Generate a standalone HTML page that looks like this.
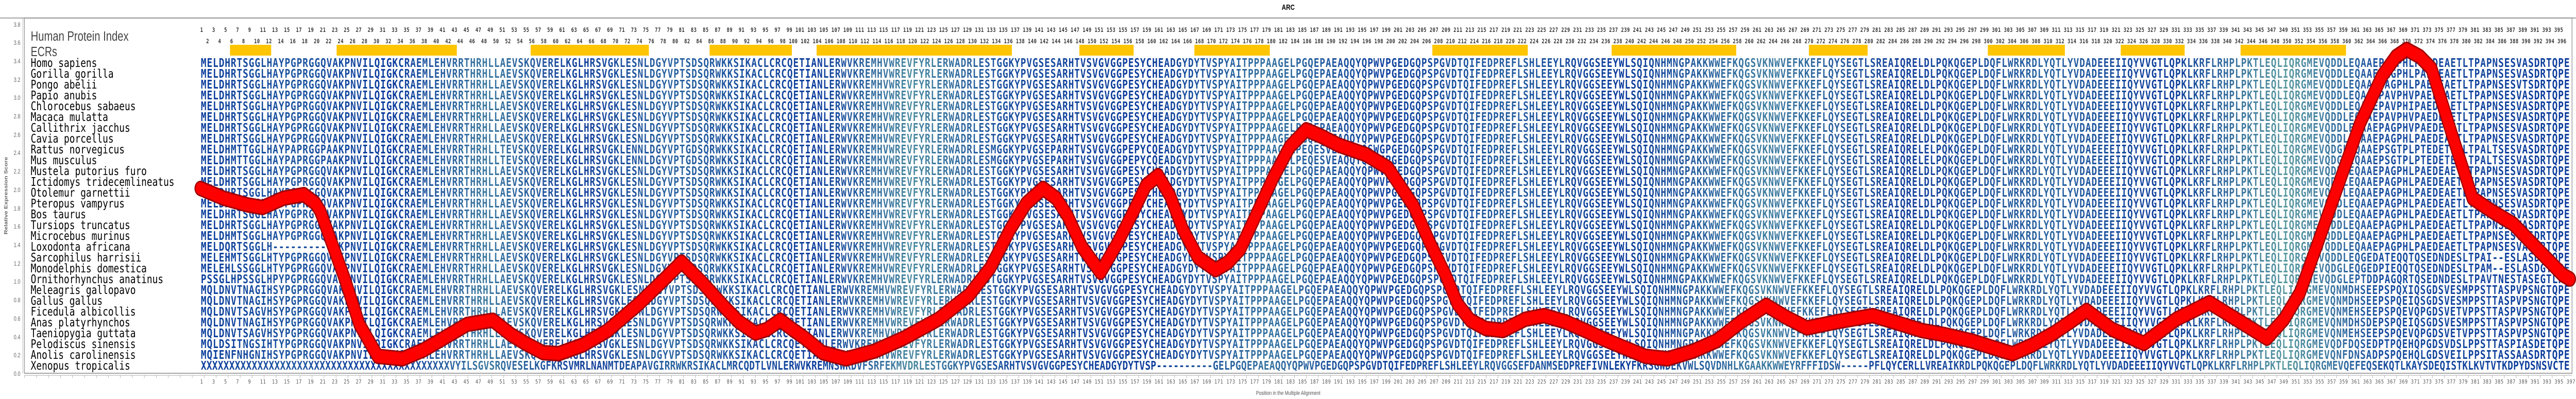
<!DOCTYPE html>
<html><head><meta charset="utf-8"><style>
html,body{margin:0;padding:0;background:#fff;width:100%;height:100%;overflow:hidden;}
svg{display:block;overflow:hidden;width:100vw;height:100vh;}
.sp{font-family:"DejaVu Sans Mono","Liberation Mono",monospace;font-size:23px;fill:#000;}
.sq{font-family:"DejaVu Sans Mono","Liberation Mono",monospace;font-size:23px;font-weight:bold;}
.tn{font-family:"DejaVu Sans Mono","Liberation Mono",monospace;font-size:11.5px;font-weight:bold;fill:#333;white-space:pre;}
.bn{font-family:"DejaVu Sans Mono","Liberation Mono",monospace;font-size:11px;fill:#555;white-space:pre;}
.yl{font-family:"Liberation Sans",sans-serif;font-size:12px;fill:#666;}
</style></head><body>
<svg viewBox="0 0 6451 775" preserveAspectRatio="none" xmlns="http://www.w3.org/2000/svg">
<defs>
<linearGradient id="g" gradientUnits="userSpaceOnUse" x1="503" y1="0" x2="6435" y2="0">
<stop offset="0" stop-color="#0b3d9c"/><stop offset="0.04" stop-color="#1e56a0"/><stop offset="0.08" stop-color="#0a3a9e"/><stop offset="0.12" stop-color="#3d7aa0"/><stop offset="0.16" stop-color="#123f9c"/><stop offset="0.2" stop-color="#2a64a0"/><stop offset="0.26" stop-color="#0d3d9e"/><stop offset="0.3" stop-color="#4b8aa0"/><stop offset="0.34" stop-color="#1a4ea0"/><stop offset="0.4" stop-color="#0b3b9c"/><stop offset="0.45" stop-color="#3573a0"/><stop offset="0.5" stop-color="#0e3f9e"/><stop offset="0.55" stop-color="#2660a0"/><stop offset="0.6" stop-color="#0b3b9c"/><stop offset="0.66" stop-color="#3e7da0"/><stop offset="0.72" stop-color="#133f9c"/><stop offset="0.78" stop-color="#2a64a0"/><stop offset="0.83" stop-color="#0b3b9c"/><stop offset="0.88" stop-color="#5a9aa0"/><stop offset="0.92" stop-color="#1a4ea0"/><stop offset="1" stop-color="#0b3b9c"/>
</linearGradient>
</defs>
<text x="3226" y="19" text-anchor="middle" style="font-family:'Liberation Sans',sans-serif;font-weight:bold;font-size:15px;fill:#000">ARC</text>
<line x1="0" y1="35" x2="6451" y2="35" stroke="#888" stroke-width="1.5"/>
<rect x="61" y="35" width="6380" height="690" fill="none" stroke="#888" stroke-width="1.5"/>
<line x1="57" y1="35" x2="57" y2="725" stroke="#aaa" stroke-width="1"/>
<line x1="61" y1="729" x2="6441" y2="729" stroke="#aaa" stroke-width="1"/>
<line x1="61" y1="732" x2="6441" y2="732" stroke="#aaa" stroke-width="5" stroke-dasharray="1 29"/>
<g class="yl" text-anchor="end">
<text x="51" y="730">0.0</text><text x="51" y="694">0.2</text><text x="51" y="659">0.4</text><text x="51" y="623">0.6</text><text x="51" y="587">0.8</text><text x="51" y="551">1.0</text><text x="51" y="516">1.2</text><text x="51" y="480">1.4</text><text x="51" y="444">1.6</text><text x="51" y="409">1.8</text><text x="51" y="373">2.0</text><text x="51" y="337">2.2</text><text x="51" y="301">2.4</text><text x="51" y="266">2.6</text><text x="51" y="230">2.8</text><text x="51" y="194">3.0</text><text x="51" y="159">3.2</text><text x="51" y="123">3.4</text><text x="51" y="87">3.6</text><text x="51" y="52">3.8</text>
</g>
<text transform="translate(19,380) rotate(-90)" text-anchor="middle" style="font-family:'Liberation Sans',sans-serif;font-weight:bold;font-size:12px;fill:#666">Relative Expression Score</text>
<text x="3226" y="767" text-anchor="middle" style="font-family:'Liberation Sans',sans-serif;font-size:11px;fill:#555">Position in the Multiple Alignment</text>

<text x="77" y="79" textLength="245" lengthAdjust="spacingAndGlyphs" style="font-family:'Liberation Sans',sans-serif;font-size:26px;fill:#444">Human Protein Index</text>
<text x="77" y="109" textLength="66" lengthAdjust="spacingAndGlyphs" style="font-family:'Liberation Sans',sans-serif;font-size:26px;fill:#444">ECRs</text>

<text class="tn" x="494" y="62" textLength="5932" lengthAdjust="spacing" xml:space="preserve"> 1   3   5   7   9   11  13  15  17  19  21  23  25  27  29  31  33  35  37  39  41  43  45  47  49  51  53  55  57  59  61  63  65  67  69  71  73  75  77  79  81  83  85  87  89  91  93  95  97  99 101 103 105 107 109 111 113 115 117 119 121 123 125 127 129 131 133 135 137 139 141 143 145 147 149 151 153 155 157 159 161 163 165 167 169 171 173 175 177 179 181 183 185 187 189 191 193 195 197 199 201 203 205 207 209 211 213 215 217 219 221 223 225 227 229 231 233 235 237 239 241 243 245 247 249 251 253 255 257 259 261 263 265 267 269 271 273 275 277 279 281 283 285 287 289 291 293 295 297 299 301 303 305 307 309 311 313 315 317 319 321 323 325 327 329 331 333 335 337 339 341 343 345 347 349 351 353 355 357 359 361 363 365 367 369 371 373 375 377 379 381 383 385 387 389 391 393 395 </text>
<text class="tn" x="509" y="84" textLength="5925" lengthAdjust="spacing" xml:space="preserve"> 2   4   6   8   10  12  14  16  18  20  22  24  26  28  30  32  34  36  38  40  42  44  46  48  50  52  54  56  58  60  62  64  66  68  70  72  74  76  78  80  82  84  86  88  90  92  94  96  98 100 102 104 106 108 110 112 114 116 118 120 122 124 126 128 130 132 134 136 138 140 142 144 146 148 150 152 154 156 158 160 162 164 166 168 170 172 174 176 178 180 182 184 186 188 190 192 194 196 198 200 202 204 206 208 210 212 214 216 218 220 222 224 226 228 230 232 234 236 238 240 242 244 246 248 250 252 254 256 258 260 262 264 266 268 270 272 274 276 278 280 282 284 286 288 290 292 294 296 298 300 302 304 306 308 310 312 314 316 318 320 322 324 326 328 330 332 334 336 338 340 342 344 346 348 350 352 354 356 358 360 362 364 366 368 370 372 374 376 378 380 382 384 386 388 390 392 394 396 </text>
<text class="bn" x="494" y="745" textLength="5955" lengthAdjust="spacing" xml:space="preserve"> 1   3   5   7   9   11  13  15  17  19  21  23  25  27  29  31  33  35  37  39  41  43  45  47  49  51  53  55  57  59  61  63  65  67  69  71  73  75  77  79  81  83  85  87  89  91  93  95  97  99 101 103 105 107 109 111 113 115 117 119 121 123 125 127 129 131 133 135 137 139 141 143 145 147 149 151 153 155 157 159 161 163 165 167 169 171 173 175 177 179 181 183 185 187 189 191 193 195 197 199 201 203 205 207 209 211 213 215 217 219 221 223 225 227 229 231 233 235 237 239 241 243 245 247 249 251 253 255 257 259 261 263 265 267 269 271 273 275 277 279 281 283 285 287 289 291 293 295 297 299 301 303 305 307 309 311 313 315 317 319 321 323 325 327 329 331 333 335 337 339 341 343 345 347 349 351 353 355 357 359 361 363 365 367 369 371 373 375 377 379 381 383 385 387 389 391 393 395 397</text>

<g fill="#ffc500">
<rect x="576" y="87" width="103" height="21"/><rect x="843" y="87" width="301" height="21"/><rect x="1329" y="87" width="296" height="21"/><rect x="1777" y="87" width="206" height="21"/><rect x="2045" y="87" width="489" height="21"/><rect x="2703" y="87" width="136" height="21"/><rect x="2991" y="87" width="189" height="21"/><rect x="3587" y="87" width="239" height="21"/><rect x="4036" y="87" width="312" height="21"/><rect x="4530" y="87" width="147" height="21"/><rect x="4978" y="87" width="193" height="21"/><rect x="5311" y="87" width="160" height="21"/><rect x="5611" y="87" width="264" height="21"/>
</g>

<g class="sp">
<text x="77" y="130">Homo sapiens</text>
<text x="77" y="151">Gorilla gorilla</text>
<text x="77" y="172">Pongo abelii</text>
<text x="77" y="193">Papio anubis</text>
<text x="77" y="214">Chlorocebus sabaeus</text>
<text x="77" y="235">Macaca mulatta</text>
<text x="77" y="256">Callithrix jacchus</text>
<text x="77" y="277">Cavia porcellus</text>
<text x="77" y="298">Rattus norvegicus</text>
<text x="77" y="319">Mus musculus</text>
<text x="77" y="340">Mustela putorius furo</text>
<text x="77" y="361">Ictidomys tridecemlineatus</text>
<text x="77" y="382">Otolemur garnettii</text>
<text x="77" y="403">Pteropus vampyrus</text>
<text x="77" y="424">Bos taurus</text>
<text x="77" y="445">Tursiops truncatus</text>
<text x="77" y="466">Microcebus murinus</text>
<text x="77" y="487">Loxodonta africana</text>
<text x="77" y="508">Sarcophilus harrisii</text>
<text x="77" y="529">Monodelphis domestica</text>
<text x="77" y="550">Ornithorhynchus anatinus</text>
<text x="77" y="571">Meleagris gallopavo</text>
<text x="77" y="592">Gallus gallus</text>
<text x="77" y="613">Ficedula albicollis</text>
<text x="77" y="634">Anas platyrhynchos</text>
<text x="77" y="655">Taeniopygia guttata</text>
<text x="77" y="676">Pelodiscus sinensis</text>
<text x="77" y="697">Anolis carolinensis</text>
<text x="77" y="718">Xenopus tropicalis</text>
</g>

<g class="sq" fill="url(#g)">
<text x="503" y="130" textLength="5932" lengthAdjust="spacing">MELDHRTSGGLHAYPGPRGGQVAKPNVILQIGKCRAEMLEHVRRTHRHLLAEVSKQVERELKGLHRSVGKLESNLDGYVPTSDSQRWKKSIKACLCRCQETIANLERWVKREMHVWREVFYRLERWADRLESTGGKYPVGSESARHTVSVGVGGPESYCHEADGYDYTVSPYAITPPPAAGELPGQEPAEAQQYQPWVPGEDGQPSPGVDTQIFEDPREFLSHLEEYLRQVGGSEEYWLSQIQNHMNGPAKKWWEFKQGSVKNWVEFKKEFLQYSEGTLSREAIQRELDLPQKQGEPLDQFLWRKRDLYQTLYVDADEEEIIQYVVGTLQPKLKRFLRHPLPKTLEQLIQRGMEVQDDLEQAAEPAGPHLPVEDEAETLTPAPNSESVASDRTQPE</text>
<text x="503" y="151" textLength="5932" lengthAdjust="spacing">MELDHRTSGGLHAYPGPRGGQVAKPNVILQIGKCRAEMLEHVRRTHRHLLAEVSKQVERELKGLHRSVGKLESNLDGYVPTSDSQRWKKSIKACLCRCQETIANLERWVKREMHVWREVFYRLERWADRLESTGGKYPVGSESARHTVSVGVGGPESYCHEADGYDYTVSPYAITPPPAAGELPGQEPAEAQQYQPWVPGEDGQPSPGVDTQIFEDPREFLSHLEEYLRQVGGSEEYWLSQIQNHMNGPAKKWWEFKQGSVKNWVEFKKEFLQYSEGTLSREAIQRELDLPQKQGEPLDQFLWRKRDLYQTLYVDADEEEIIQYVVGTLQPKLKRFLRHPLPKTLEQLIQRGMEVQDDLEQAAEPAGPHLPAEDEAETLTPAPNSESVASDRTQPE</text>
<text x="503" y="172" textLength="5932" lengthAdjust="spacing">MELDHRTSGGLHAYPGPRGGQVAKPNVILQIGKCRAEMLEHVRRTHRHLLAEVSKQVERELKGLHRSVGKLESNLDGYVPTSDSQRWKKSIKACLCRCQETIANLERWVKREMHVWREVFYRLERWADRLESTGGKYPVGSESARHTVSVGVGGPESYCHEADGYDYTVSPYAITPPPAAGELPGQEPAEAQQYQPWVPGEDGQPSPGVDTQIFEDPREFLSHLEEYLRQVGGSEEYWLSQIQNHMNGPAKKWWEFKQGSVKNWVEFKKEFLQYSEGTLSREAIQRELDLPQKQGEPLDQFLWRKRDLYQTLYVDADEEEIIQYVVGTLQPKLKRFLRHPLPKTLEQLIQRGMEVQDDLEQAAEPAGPHLPAEDEAETLTPAPNSESVTSDRTQPE</text>
<text x="503" y="193" textLength="5932" lengthAdjust="spacing">MELDHRTSGGLHAYPGPRGGQVAKPNVILQIGKCRAEMLEHVRRTHRHLLAEVSKQVERELKGLHRSVGKLESNLDGYVPTSDSQRWKKSIKACLCRCQETIANLERWVKREMHVWREVFYRLERWADRLESTGGKYPVGSESARHTVSVGVGGPESYCHEADGYDYTVSPYAITPPPAAGELPGQEPAEAQQYQPWVPGEDGQPSPGVDTQIFEDPREFLSHLEEYLRQVGGSEEYWLSQIQNHMNGPAKKWWEFKQGSVKNWVEFKKEFLQYSEGTLSREAIQRELDLPQKQGEPLDQFLWRKRDLYQTLYVDADEEEIIQYVVGTLQPKLKRFLRHPLPKTLEQLIQRGMEVQDDLEQAAEPAVPHVPAEDEAETLTPAPNSESVASDRTQPE</text>
<text x="503" y="214" textLength="5932" lengthAdjust="spacing">MELDHRTSGGLHAYPGPRGGQVAKPNVILQIGKCRAEMLEHVRRTHRHLLAEVSKQVERELKGLHRSVGKLESNLDGYVPTSDSQRWKKSIKACLCRCQETIANLERWVKREMHVWREVFYRLERWADRLESTGGKYPVGSESARHTVSVGVGGPESYCHEADGYDYTVSPYAITPPPAAGELPGQEPAEAQQYQPWVPGEDGQPSPGVDTQIFEDPREFLSHLEEYLRQVGGSEEYWLSQIQNHMNGPAKKWWEFKQGSVKNWVEFKKEFLQYSEGTLSREAIQRELDLPQKQGEPLDQFLWRKRDLYQTLYVDADEEEIIQYVVGTLQPKLKRFLRHPLPKTLEQLIQRGMEVQDDLEQAAEPAVPHIPAEDEAETLTPAPNSESVASDRTQPE</text>
<text x="503" y="235" textLength="5932" lengthAdjust="spacing">MELDHRTSGGLHAYPGPRGGQVAKPNVILQIGKCRAEMLEHVRRTHRHLLAEVSKQVERELKGLHRSVGKLESNLDGYVPTSDSQRWKKSIKACLCRCQETIANLERWVKREMHVWREVFYRLERWADRLESTGGKYPVGSESARHTVSVGVGGPESYCHEADGYDYTVSPYAITPPPAAGELPGQEPAEAQQYQPWVPGEDGQPSPGVDTQIFEDPREFLSHLEEYLRQVGGSEEYWLSQIQNHMNGPAKKWWEFKQGSVKNWVEFKKEFLQYSEGTLSREAIQRELDLPQKQGEPLDQFLWRKRDLYQTLYVDADEEEIIQYVVGTLQPKLKRFLRHPLPKTLEQLIQRGMEVQDDLEQAAEPAVPHVPAEDEAETLTPAPNSESVASDRTQPE</text>
<text x="503" y="256" textLength="5932" lengthAdjust="spacing">MELDHRTSGGLHAYPGPRGGQVAKPNVILQIGKCRAEMLEHVRRTHRHLLAEVSKQVERELKGLHRSVGKLESNLDGYVPTSDSQRWKKSIKACLCRCQETIANLERWVKREMHVWREVFYRLERWADRLESTGGKYPVGSESARHTVSVGVGGPESYCHEADGYDYTVSPYAITPPPAAGELPGQEPAEAQQYQPWVPGEDGQPSPGVDTQIFEDPREFLSHLEEYLRQVGGSEEYWLSQIQNHMNGPAKKWWEFKQGSVKNWVEFKKEFLQYSEGTLSREAIQRELDLPQKQGEPLDQFLWRKRDLYQTLYVDADEEEIIQYVVGTLQPKLKRFLRHPLPKTLEQLIQRGMEVQDDLEQAAEPAGPHVPAEDETETLTPAPNSESVASDRTQPE</text>
<text x="503" y="277" textLength="5932" lengthAdjust="spacing">MELDHRTSGGLHAYPGPRGGQVAKPNVILQIGKCRAEMLEHVRRTHRHLLAEVSKQVERELKGLHRSVGKLESNLDGYVPTSDSQRWKKSIKACLCRCQETIANLERWVKREMHVWREVFYRLERWADRLESTGGKYPVGSESARHTVSVGVGGPESYCHEADGYDYTVSPYAITPPPAAGELPGQEPAEAQQYQPWVPGEDGQPSPGVDTQIFEDPREFLSHLEEYLRQVGGSEEYWLSQIQNHMNGPAKKWWEFKQGSVKNWVEFKKEFLQYSEGTLSREAIQRELDLPQKQGEPLDQFLWRKRDLYQTLYVDADEEEIIQYVVGTLQPKLKRFLRHPLPKTLEQLIQRGMEVQDDLEQAAEPAGPHLPAEDEAETLTPAPNSESVASDRTQPE</text>
<text x="503" y="298" textLength="5932" lengthAdjust="spacing">MELDHMTTGGLHAYPAPRGGPAAKPNVILQIGKCRAEMLEHVRRTHRHLLTEVSKQVERELKGLHRSVGKLENNLDGYVPTGDSQRWKKSIKACLCRCQETIANLERWVKREMHVWREVFYRLERWADRLESMGGKYPVGSEPARHTVSVGVGGPEPYCQEADGYDYTVSPYAITPPPAAGELPEQESVEAQQYQSWGPGEDGQPSPGVDTQIFEDPREFLSHLEEYLRQVGGSEEYWLSQIQNHMNGPAKKWWEFKQGSVKNWVEFKKEFLQYSEGTLSREAIQRELELPQKQGEPLDQFLWRKRDLYQTLYVDAEEEEIIQYVVGTLQPKLKRFLRHPLPKTLEQLIQRGMEVQDGLEQAAEPSGTPLPTEDETEALTPALTSESVASDRTQPE</text>
<text x="503" y="319" textLength="5932" lengthAdjust="spacing">MELDHMTTGGLHAYPAPRGGPAAKPNVILQIGKCRAEMLEHVRRTHRHLLTEVSKQVERELKGLHRSVGKLENNLDGYVPTGDSQRWKKSIKACLCRCQETIANLERWVKREMHVWREVFYRLERWADRLESMGGKYPVGSEPARHTVSVGVGGPEPYCQEADGYDYTVSPYAITPPPAAGELPEQESVEAQQYQSWGPGEDGQPSPGVDTQIFEDPREFLSHLEEYLRQVGGSEEYWLSQIQNHMNGPAKKWWEFKQGSVKNWVEFKKEFLQYSEGTLSREAIQRELELPQKQGEPLDQFLWRKRDLYQTLYVDAEEEEIIQYVVGTLQPKLKRFLRHPLPKTLEQLIQRGMEVQDGLEQAAEPSGTPLPTEDETEALTPALTSESVASDRTQPE</text>
<text x="503" y="340" textLength="5932" lengthAdjust="spacing">MELDHRTSGGLHAYPGPRGGQVAKPNVILQIGKCRAEMLEHVRRTHRHLLAEVSKQVERELKGLHRSVGKLESNLDGYVPTSDSQRWKKSIKACLCRCQETIANLERWVKREMHVWREVFYRLERWADRLESTGGKYPVGSESARHTVSVGVGGPESYCHEADGYDYTVSPYAITPPPAAGELPGQEPAEAQQYQPWVPGEDGQPSPGVDTQIFEDPREFLSHLEEYLRQVGGSEEYWLSQIQNHMNGPAKKWWEFKQGSVKNWVEFKKEFLQYSEGTLSREAIQRELDLPQKQGEPLDQFLWRKRDLYQTLYVDADEEEIIQYVVGTLQPKLKRFLRHPLPKTLEQLIQRGMEVQDDLEQAAEPAGPHLPAEDEAETLTPAPNSESVASDRTQPE</text>
<text x="503" y="361" textLength="5932" lengthAdjust="spacing">MELDHRTSGGLHAYPGPRGGQVAKPNVILQIGKCRAEMLEHVRRTHRHLLAEVSKQVERELKGLHRSVGKLESNLDGYVPTSDSQRWKKSIKACLCRCQETIANLERWVKREMHVWREVFYRLERWADRLESTGGKYPVGSESARHTVSVGVGGPESYCHEADGYDYTVSPYAITPPPAAGELPGQEPAEAQQYQPWVPGEDGQPSPGVDTQIFEDPREFLSHLEEYLRQVGGSEEYWLSQIQNHMNGPAKKWWEFKQGSVKNWVEFKKEFLQYSEGTLSREAIQRELDLPQKQGEPLDQFLWRKRDLYQTLYVDADEEEIIQYVVGTLQPKLKRFLRHPLPKTLEQLIQRGMEVQDDLEQAAEPAGPHLPAEDEAETLTPAPNSESVASDRTQPE</text>
<text x="503" y="382" textLength="5932" lengthAdjust="spacing">MELDHRTSGGLHAYPGPRGGQVAKPNVILQIGKCRAEMLEHVRRTHRHLLAEVSKQVERELKGLHRSVGKLESNLDGYVPTSDSQRWKKSIKACLCRCQETIANLERWVKREMHVWREVFYRLERWADRLESTGGKYPVGSESARHTVSVGVGGPESYCHEADGYDYTVSPYAITPPPAAGELPGQEPAEAQQYQPWVPGEDGQPSPGVDTQIFEDPREFLSHLEEYLRQVGGSEEYWLSQIQNHMNGPAKKWWEFKQGSVKNWVEFKKEFLQYSEGTLSREAIQRELDLPQKQGEPLDQFLWRKRDLYQTLYVDADEEEIIQYVVGTLQPKLKRFLRHPLPKTLEQLIQRGMEVQDDLEQAAEPAGPHLPAEDEAETLTPAPNSESVASDRTQPE</text>
<text x="503" y="403" textLength="5932" lengthAdjust="spacing">MELDHRTSGGLHAYPGPRGGQVAKPNVILQIGKCRAEMLEHVRRTHRHLLAEVSKQVERELKGLHRSVGKLESNLDGYVPTSDSQRWKKSIKACLCRCQETIANLERWVKREMHVWREVFYRLERWADRLESTGGKYPVGSESARHTVSVGVGGPESYCHEADGYDYTVSPYAITPPPAAGELPGQEPAEAQQYQPWVPGEDGQPSPGVDTQIFEDPREFLSHLEEYLRQVGGSEEYWLSQIQNHMNGPAKKWWEFKQGSVKNWVEFKKEFLQYSEGTLSREAIQRELDLPQKQGEPLDQFLWRKRDLYQTLYVDADEEEIIQYVVGTLQPKLKRFLRHPLPKTLEQLIQRGMEVQDDLEQAAEPAGPHLPAEDEAETLTPAPNSESVASDRTQPE</text>
<text x="503" y="424" textLength="5932" lengthAdjust="spacing">MELDHRTSGGLHAYPGPRGGQVAKPNVILQIGKCRAEMLEHVRRTHRHLLAEVSKQVERELKGLHRSVGKLESNLDGYVPTSDSQRWKKSIKACLCRCQETIANLERWVKREMHVWREVFYRLERWADRLESTGGKYPVGSESARHTVSVGVGGPESYCHEADGYDYTVSPYAITPPPAAGELPGQEPAEAQQYQPWVPGEDGQPSPGVDTQIFEDPREFLSHLEEYLRQVGGSEEYWLSQIQNHMNGPAKKWWEFKQGSVKNWVEFKKEFLQYSEGTLSREAIQRELDLPQKQGEPLDQFLWRKRDLYQTLYVDADEEEIIQYVVGTLQPKLKRFLRHPLPKTLEQLIQRGMEVQDDLEQAAEPAGPHLPAEDEAETLTPAPNSESVASDRTQPE</text>
<text x="503" y="445" textLength="5932" lengthAdjust="spacing">MELDHRTSGGLHAYPGPRGGQVAKPNVILQIGKCRAEMLEHVRRTHRHLLAEVSKQVERELKGLHRSVGKLESNLDGYVPTSDSQRWKKSIKACLCRCQETIANLERWVKREMHVWREVFYRLERWADRLESTGGKYPVGSESARHTVSVGVGGPESYCHEADGYDYTVSPYAITPPPAAGELPGQEPAEAQQYQPWVPGEDGQPSPGVDTQIFEDPREFLSHLEEYLRQVGGSEEYWLSQIQNHMNGPAKKWWEFKQGSVKNWVEFKKEFLQYSEGTLSREAIQRELDLPQKQGEPLDQFLWRKRDLYQTLYVDADEEEIIQYVVGTLQPKLKRFLRHPLPKTLEQLIQRGMEVQDDLEQAAEPAGPHLPAEDEAETLTPAPNSESVASDRTQPE</text>
<text x="503" y="466" textLength="5932" lengthAdjust="spacing">MELDHMTSGGLHAYPGPRGGQVAKPNVILQIGKCRAEMLEHVRRTHRHLLAEVSKQVERELKGLHRSVGKLESNLDGYVPTSDSQRWKKSIKACLCRCQETIANLERWVKREMHVWREVFYRLERWADRLESTGGKYPVGSESARHTVSVGVGGPESYCHEADGYDYTVSPYAITPPPAAGELPGQEPAEAQQYQPWVPGEDGQPSPGVDTQIFEDPREFLSHLEEYLRQVGGSEEYWLSQIQNHMNGPAKKWWEFKQGSVKNWVEFKKEFLQYSEGTLSREAIQRELDLPQKQGEPLDQFLWRKRDLYQTLYVDADEEEIIQYVVGTLQPKLKRFLRHPLPKTLEQLIQRGMEVQDDLEQAAEPAGPHLPAEDEAETLTPAPNSESVASDRTQPE</text>
<text x="503" y="487" textLength="5932" lengthAdjust="spacing">MELDQRTSGGLH-----------KPNVILQIGKCRAEMLEHVRRTHRHLLAEVSKQVERELKGLHRSVGKLESNLDGYVPTSDSQRWKKSIKACLCRCQETIANLERWVKREMHVWREVFYRLERWADRLESTGGKYPVGSESARHTVSVGVGGPESYCHEADGYDYTVSPYAITPPPAAGELPGQEPAEAQQYQPWVPGEDGQPSPGVDTQIFEDPREFLSHLEEYLRQVGGSEEYWLSQIQNHMNGPAKKWWEFKQGSVKNWVEFKKEFLQYSEGTLSREAIQRELDLPQKQGEPLDQFLWRKRDLYQTLYVDADEEEIIQYVVGTLQPKLKRFLRHPLPKTLEQLIQRGMEVQDDLEQAAEPAGPHLPAEDEAETLTPAPNSESVASDRTQPE</text>
<text x="503" y="508" textLength="5932" lengthAdjust="spacing">MELEHMTSGGLHTYPGPRGGQVAKPNVILQIGKCRAEMLEHVRRTHRHLLAEVSKQVERELKGLHRSVGKLESNLDGYVPTSDSQRWKKSIKACLCRCQETIANLERWVKREMHVWREVFYRLERWADRLESTGGKYPVGSESARHTVSVGVGGPESYCHEADGYDYTVSPYAITPPPAAGELPGQEPAEAQQYQPWVPGEDGQPSPGVDTQIFEDPREFLSHLEEYLRQVGGSEEYWLSQIQNHMNGPAKKWWEFKQGSVKNWVEFKKEFLQYSEGTLSREAIQRELDLPQKQGEPLDQFLWRKRDLYQTLYVDADEEEIIQYVVGTLQPKLKRFLRHPLPKTLEQLIQRGMEVQDDLEQGEDATEQQTQSEDNDESLTPAI--ESLASDGTQPE</text>
<text x="503" y="529" textLength="5932" lengthAdjust="spacing">MELEHLSSGGLHTYPGPRGGQVAKPNVILQIGKCRAEMLEHVRRTHRHLLAEVSKQVERELKGLHRSVGKLESNLDGYVPTSDSQRWKKSIKACLCRCQETIANLERWVKREMHVWREVFYRLERWADRLESTGGKYPVGSESARHTVSVGVGGPESYCHEADGYDYTVSPYAITPPPAAGELPGQEPAEAQQYQPWVPGEDGQPSPGVDTQIFEDPREFLSHLEEYLRQVGGSEEYWLSQIQNHMNGPAKKWWEFKQGSVKNWVEFKKEFLQYSEGTLSREAIQRELDLPQKQGEPLDQFLWRKRDLYQTLYVDADEEEIIQYVVGTLQPKLKRFLRHPLPKTLEQLIQRGMEVQDGLEQGEDPIEQQTQSEDNDESLTPAM--ESLASDGTQPE</text>
<text x="503" y="550" textLength="5932" lengthAdjust="spacing">PSSGLHPSSGLHPYPGPRGGQVAKPNVILQIGKCRAEMLEHVRRTHRHLLAEVSKQVERELKGLHRSVGKLESNLDGYVPTSDSQRWKKSIKACLCRCQETIANLERWVKREMHVWREVFYRLERWADRLESTGGKYPVGSESARHTVSVGVGGPESYCHEADGYDYTVSPYAITPPPAAGELPGQEPAEAQQYQPWVPGEDGQPSPGVDTQIFEDPREFLSHLEEYLRQVGGSEEYWLSQIQNHMNGPAKKWWEFKQGSVKNWVEFKKEFLQYSEGTLSREAIQRELDLPQKQGEPLDQFLWRKRDLYQTLYVDADEEEIIQYVVGTLQPKLKRFLRHPLPKTLEQLIQRGMEVQDGLEPTDDPAGQRTQSEDNDESLTPAVTNESTASEGTLPE</text>
<text x="503" y="571" textLength="5932" lengthAdjust="spacing">MQLDNVTNAGIHSYPGPRGGQVAKPNVILQIGKCRAEMLEHVRRTHRHLLAEVSKQVERELKGLHRSVGKLESNLDGYVPTSDSQRWKKSIKACLCRCQETIANLERWVKREMHVWREVFYRLERWADRLESTGGKYPVGSESARHTVSVGVGGPESYCHEADGYDYTVSPYAITPPPAAGELPGQEPAEAQQYQPWVPGEDGQPSPGVDTQIFEDPREFLSHLEEYLRQVGGSEEYWLSQIQNHMNGPAKKWWEFKQGSVKNWVEFKKEFLQYSEGTLSREAIQRELDLPQKQGEPLDQFLWRKRDLYQTLYVDADEEEIIQYVVGTLQPKLKRFLRHPLPKTLEQLIQRGMEVQNMDHSEEPSPQXIQSGDSVESMPPSTTASPVPSNGTQPE</text>
<text x="503" y="592" textLength="5932" lengthAdjust="spacing">MQLDNVTNAGIHSYPGPRGGQVAKPNVILQIGKCRAEMLEHVRRTHRHLLAEVSKQVERELKGLHRSVGKLESNLDGYVPTSDSQRWKKSIKACLCRCQETIANLERWVKREMHVWREVFYRLERWADRLESTGGKYPVGSESARHTVSVGVGGPESYCHEADGYDYTVSPYAITPPPAAGELPGQEPAEAQQYQPWVPGEDGQPSPGVDTQIFEDPREFLSHLEEYLRQVGGSEEYWLSQIQNHMNGPAKKWWEFKQGSVKNWVEFKKEFLQYSEGTLSREAIQRELDLPQKQGEPLDQFLWRKRDLYQTLYVDADEEEIIQYVVGTLQPKLKRFLRHPLPKTLEQLIQRGMEVQNMDHSEEPSPQEIQSGDSVESMPPSTTASPVPSNGTQPE</text>
<text x="503" y="613" textLength="5932" lengthAdjust="spacing">MQLDNVTSAGVHSYPGPRGGQVAKPNVILQIGKCRAEMLEHVRRTHRHLLAEVSKQVERELKGLHRSVGKLESNLDGYVPTSDSQRWKKSIKACLCRCQETIANLERWVKREMHVWREVFYRLERWADRLESTGGKYPVGSESARHTVSVGVGGPESYCHEADGYDYTVSPYAITPPPAAGELPGQEPAEAQQYQPWVPGEDGQPSPGVDTQIFEDPREFLSHLEEYLRQVGGSEEYWLSQIQNHMNGPAKKWWEFKQGSVKNWVEFKKEFLQYSEGTLSREAIQRELDLPQKQGEPLDQFLWRKRDLYQTLYVDADEEEIIQYVVGTLQPKLKRFLRHPLPKTLEQLIQRGMEVQNMEHSEEPSPQEVQPGDSVETVPPSTTASPVPSNGTQPE</text>
<text x="503" y="634" textLength="5932" lengthAdjust="spacing">MQLDNVTNAGIHSYPGPRGGQVAKPNVILQIGKCRAEMLEHVRRTHRHLLAEVSKQVERELKGLHRSVGKLESNLDGYVPTSDSQRWKKSIKACLCRCQETIANLERWVKREMHVWREVFYRLERWADRLESTGGKYPVGSESARHTVSVGVGGPESYCHEADGYDYTVSPYAITPPPAAGELPGQEPAEAQQYQPWVPGEDGQPSPGVDTQIFEDPREFLSHLEEYLRQVGGSEEYWLSQIQNHMNGPAKKWWEFKQGSVKNWVEFKKEFLQYSEGTLSREAIQRELDLPQKQGEPLDQFLWRKRDLYQTLYVDADEEEIIQYVVGTLQPKLKRFLRHPLPKTLEQLIQRGMEVQNMDHSDEPSPQEIQSGDSVESMPPSTTASPVPSNGTQPE</text>
<text x="503" y="655" textLength="5932" lengthAdjust="spacing">MQLDNVTSAGVHSYPGPRGGQVAKPNVILQIGKCRAEMLEHVRRTHRHLLAEVSKQVERELKGLHRSVGKLESNLDGYVPTSDSQRWKKSIKACLCRCQETIANLERWVKREMHVWREVFYRLERWADRLESTGGKYPVGSESARHTVSVGVGGPESYCHEADGYDYTVSPYAITPPPAAGELPGQEPAEAQQYQPWVPGEDGQPSPGVDTQIFEDPREFLSHLEEYLRQVGGSEEYWLSQIQNHMNGPAKKWWEFKQGSVKNWVEFKKEFLQYSEGTLSREAIQRELDLPQKQGEPLDQFLWRKRDLYQTLYVDADEEEIIQYVVGTLQPKLKRFLRHPLPKTLEQLIQRGMEVQNMEHSEEPSPQEVQPGDSVETVPPSTTASPVPSNGTQPE</text>
<text x="503" y="676" textLength="5932" lengthAdjust="spacing">MQLDSITNGSIHTYPGPRGGQVAKPNVILQIGKCRAEMLEHVRRTHRHLLAEVSKQVERELKGLHRSVGKLESNLDGYVPTSDSQRWKKSIKACLCRCQETIANLERWVKREMHVWREVFYRLERWADRLESTGGKYPVGSESARHTVSVGVGGPESYCHEADGYDYTVSPYAITPPPAAGELPGQEPAEAQQYQPWVPGEDGQPSPGVDTQIFEDPREFLSHLEEYLRQVGGSEEYWLSQIQNHMNGPAKKWWEFKQGSVKNWVEFKKEFLQYSEGTLSREAIQRELDLPQKQGEPLDQFLWRKRDLYQTLYVDADEEEIIQYVVGTLQPKLKRFLRHPLPKTLEQLIQRGMEVQDFDQSEDPTPQEHQPGDSVDSLPPSTTASPIASDETQPE</text>
<text x="503" y="697" textLength="5932" lengthAdjust="spacing">MQIENFNHGNIHSYPGPRGGQVAKPNVILQIGKCRAEMLEHVRRTHRHLLAEVSKQVERELKGLHRSVGKLESNLDGYVPTSDSQRWKKSIKACLCRCQETIANLERWVKREMHVWREVFYRLERWADRLESTGGKYPVGSESARHTVSVGVGGPESYCHEADGYDYTVSPYAITPPPAAGELPGQEPAEAQQYQPWVPGEDGQPSPGVDTQIFEDPREFLSHLEEYLRQVGGSEEYWLSQIQNHMNGPAKKWWEFKQGSVKNWVEFKKEFLQYSEGTLSREAIQRELDLPQKQGEPLDQFLWRKRDLYQTLYVDADEEEIIQYVVGTLQPKLKRFLRHPLPKTLEQLIQRGMEVQNFDNSADPSPQEHQLGDSVEILPPSITASSAASDRTQPE</text>
<text x="503" y="718" textLength="5932" lengthAdjust="spacing">XXXXXXXXXXXXXXXXXXXXXXXXXXXXXXXXXXXXXXXXXXXXVYILSGVSRQVESELKGFKRSVMRLNANMTDEAPAVGIRRWKRSIKACLMRCQDTLVNLERWVKREMNSWRDVFSRFEKMVDRLESTGGKYPVGSESARHTVSVGVGGPESYCHEADGYDYTVSP----------GELPGQEPAEAQQYQPWVPGEDGQPSPGVDTQIFEDPREFLSHLEEYLRQVGGSEFDANMSEDPREFIVNLEKYFKRSGWDEKVWLSQVDNHLKGAAKKWWEYRFFFIDSW-----PFLQYCERLLVREAIKRDLPQKQGEPLDQFLWRKRDLYQTLYVDADEEEIIQYVVGTLQPKLKRFLRHPLPKTLEQLIQRGMEVQEFEQSEKQTLKAYSDEQISTKLKVTVTKDPYDSNSVCTE</text>
</g>

<g fill="none" stroke-linejoin="round" stroke-linecap="round">
<polyline stroke="#a00000" stroke-width="30" points="502,366 560,385 620,398 658,403 710,385 761,378 790,395 802,410 830,470 864,543 900,630 946,692 1008,697 1060,680 1111,657 1170,630 1234,622 1280,650 1316,667 1360,685 1399,687 1460,670 1522,642 1600,590 1660,545 1707,509 1760,550 1810,593 1850,625 1892,647 1920,640 1954,622 1985,640 2016,657 2060,685 2119,697 2190,682 2263,657 2350,620 2427,573 2480,520 2530,445 2570,395 2612,366 2645,385 2674,420 2710,480 2756,529 2800,470 2839,410 2870,360 2900,341 2930,380 2962,445 3000,500 3044,524 3075,510 3106,484 3150,410 3188,346 3230,285 3271,252 3310,265 3353,282 3420,300 3476,326 3540,400 3580,470 3620,534 3650,590 3682,622 3720,638 3764,642 3820,620 3867,613 3920,625 3970,642 4020,660 4073,677 4120,692 4176,697 4240,682 4299,662 4360,625 4423,593 4470,615 4525,637 4600,625 4690,613 4750,627 4813,642 4870,650 4937,662 4990,675 5040,687 5090,670 5143,647 5185,625 5225,603 5290,640 5369,667 5450,620 5533,588 5600,620 5677,657 5720,620 5760,568 5810,460 5862,346 5910,240 5965,148 6000,110 6027,96 6060,110 6089,133 6140,260 6192,385 6240,410 6294,435 6350,480 6418,534 6436,542"/>
<polyline stroke="#ff0000" stroke-width="24" points="502,366 560,385 620,398 658,403 710,385 761,378 790,395 802,410 830,470 864,543 900,630 946,692 1008,697 1060,680 1111,657 1170,630 1234,622 1280,650 1316,667 1360,685 1399,687 1460,670 1522,642 1600,590 1660,545 1707,509 1760,550 1810,593 1850,625 1892,647 1920,640 1954,622 1985,640 2016,657 2060,685 2119,697 2190,682 2263,657 2350,620 2427,573 2480,520 2530,445 2570,395 2612,366 2645,385 2674,420 2710,480 2756,529 2800,470 2839,410 2870,360 2900,341 2930,380 2962,445 3000,500 3044,524 3075,510 3106,484 3150,410 3188,346 3230,285 3271,252 3310,265 3353,282 3420,300 3476,326 3540,400 3580,470 3620,534 3650,590 3682,622 3720,638 3764,642 3820,620 3867,613 3920,625 3970,642 4020,660 4073,677 4120,692 4176,697 4240,682 4299,662 4360,625 4423,593 4470,615 4525,637 4600,625 4690,613 4750,627 4813,642 4870,650 4937,662 4990,675 5040,687 5090,670 5143,647 5185,625 5225,603 5290,640 5369,667 5450,620 5533,588 5600,620 5677,657 5720,620 5760,568 5810,460 5862,346 5910,240 5965,148 6000,110 6027,96 6060,110 6089,133 6140,260 6192,385 6240,410 6294,435 6350,480 6418,534 6436,542"/>
</g>
</svg>
</body></html>
